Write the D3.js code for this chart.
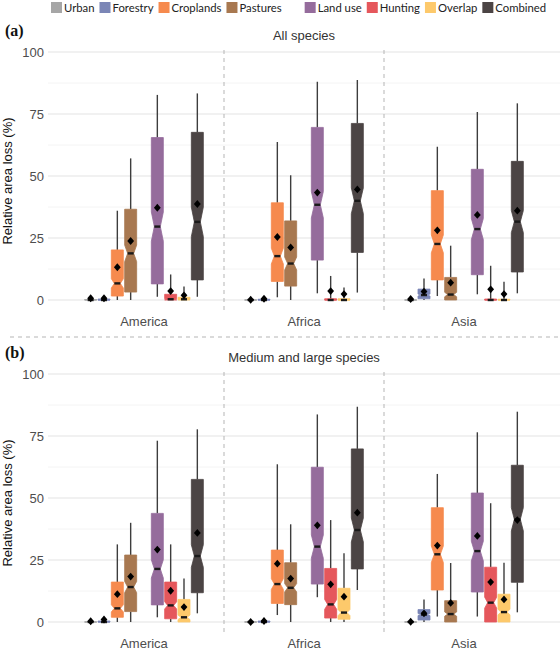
<!DOCTYPE html>
<html><head><meta charset="utf-8">
<script src="https://cdn.jsdelivr.net/npm/d3@7"></script>
<style>body{margin:0;background:#fff}svg{display:block}</style>
</head><body>
<svg id="c" width="560" height="650"></svg>
<script>
const regions = ["America","Africa","Asia"];
const series = ["Urban","Forestry","Croplands","Pastures","Land use","Hunting","Overlap","Combined"];
const seriesColors = ["#a6a6a6","#7b86b6","#f68a4e","#a87850","#956c9c","#e5575c","#fdc96b","#4b4444"];
const slots = ["Urban","Forestry","Croplands","Pastures"," ","Land use","Hunting","Overlap","Combined"];
const panelTags = ["(a)","(b)"];
const panelTitles = ["All species","Medium and large species"];
const yTicks = [0,25,50,75,100];
const yMinor = [12.5,37.5,62.5,87.5];
const nPerBox = 250;

// Panel (a): All species  — rows: America, Africa, Asia; columns follow `series`
const aLow  = [[0,0,0,0,1.3,0,0,1.3],[0,0,1.1,0,2.7,0,0,3],[0,0,1.6,0,2.3,0,0,2.7]];
const aQ1   = [[0,0,1.6,3.2,6.5,0,0,8.1],[0,0,7.5,5.6,16.1,0,0,19.2],[0,0.5,8.1,0,10.2,0,0,11.3]];
const aMed  = [[0,0,6.7,18.8,29.6,0.3,0.3,31.5],[0,0,17.7,14.7,38.4,0,0,40],[0,2,22.6,2.2,28.6,0,0,31.6]];
const aQ3   = [[0.2,0.4,20.2,36.6,65.5,2.3,1.1,67.6],[0,0.3,39.2,31.9,69.6,0.5,0.5,71.2],[0,4.4,44.1,9.1,52.7,0.4,0.3,55.9]];
const aHigh = [[0.5,0.6,36,57.1,82.7,10.3,5.4,83.3],[0,0.5,63.7,50.3,88,9.7,5,88.7],[0.3,8.7,61.8,21.9,75.8,13.8,7.4,79.3]];
const aMean = [[0.7,0.7,13.2,23.8,37.2,3.6,1.9,38.7],[0.1,0.5,25.4,21.2,43.3,3.6,2.4,44.6],[0.4,3.4,28.1,7,34.3,4.3,2.4,36]];

// Panel (b): Medium and large species
const bLow  = [[0,0,0,0,1.9,0,0,3.5],[0,0,2.8,0,10,0,0,12.9],[0,0,2.2,0,2.2,0,0,3.9]];
const bQ1   = [[0,0,1.9,4.2,6.9,1.3,0,11.8],[0,0,7.5,7,15.3,1.6,1.1,21.4],[0,0.8,12.9,0,12.1,0,0,16]];
const bMed  = [[0,0,5.5,14.1,21.4,6.7,1.9,26.6],[0,0,15.3,13.8,30.4,7.1,3.8,37.1],[0,3,27.3,3.2,28.6,7.8,4,41.4]];
const bQ3   = [[0,0.4,16.1,27,43.8,16.1,9.1,57.5],[0,0.4,29,23.9,62.4,21.6,13.6,69.8],[0,5,46.1,8.6,52,22.1,11.2,63.2]];
const bHigh = [[0,0.8,31.3,40,73.1,31.3,17.5,77.7],[0,0.6,63.6,39.4,83.7,41.1,27.7,86.8],[0,9.1,59.7,23.8,76.5,47.9,23.9,84.8]];
const bMean = [[0.3,1,11.2,18.3,29.2,12.6,6,35.9],[0,0.4,23.5,17.5,39,15.2,10.2,44.1],[0.1,3.5,30.8,7.7,34.7,16.1,9.1,41.1]];

const panelData = [
  {low:aLow,q1:aQ1,med:aMed,q3:aQ3,high:aHigh,mean:aMean},
  {low:bLow,q1:bQ1,med:bMed,q3:bQ3,high:bHigh,mean:bMean}
];

const svg = d3.select("#c");
const font = "'Liberation Sans', Arial, sans-serif";
const color = d3.scaleOrdinal(series, seriesColors);

const plotLeft = 48, plotRight = 560;
const x0 = d3.scaleBand(regions, [plotLeft + 16, plotRight - 16]).padding(0);
const x1 = d3.scaleBand(slots, [20, 140]).paddingInner(0.1).paddingOuter(0.05);

// Legend
const leg = svg.append("g").attr("font-family","Lato, 'Open Sans', sans-serif").attr("font-size",11.3);
let lx = 51;
slots.forEach(s => {
  const blank = s.trim() === "";
  if (!blank) {
    leg.append("rect").attr("x",lx).attr("y",2).attr("width",11).attr("height",11).attr("fill",color(s));
  }
  const t = leg.append("text").attr("x",lx+13).attr("y",11.8).attr("fill","#222").text(s);
  const w = blank ? 0 : t.node().getComputedTextLength();
  lx += 13 + w + 5;
});

const panelOffsets = [0, 322];
panelData.forEach((pd, pi) => {
  const off = panelOffsets[pi];
  const y = d3.scaleLinear([0,100],[300+off, 52+off]);
  const top = 50 + off, bottom = 311 + off;
  const g = svg.append("g");

  // grid
  g.selectAll(".minor").data(yMinor).join("line")
    .attr("x1",plotLeft).attr("x2",plotRight).attr("y1",d=>y(d)).attr("y2",d=>y(d))
    .attr("stroke","#f1f1f1").attr("stroke-width",0.8);
  g.selectAll(".major").data(yTicks).join("line")
    .attr("x1",plotLeft).attr("x2",plotRight).attr("y1",d=>y(d)).attr("y2",d=>y(d))
    .attr("stroke","#e3e3e3").attr("stroke-width",1.1);

  // y axis labels
  const ax = g.append("g").attr("transform",`translate(${plotLeft-4},0)`)
    .call(d3.axisLeft(y).tickValues(yTicks).tickSize(0).tickPadding(0));
  ax.select(".domain").remove();
  ax.selectAll("text").attr("font-family",font).attr("font-size",13).attr("fill","#4d4d4d");

  // x axis labels
  const xa = g.append("g").attr("transform",`translate(0,${bottom+6})`)
    .call(d3.axisBottom(x0).tickSize(0).tickPadding(0));
  xa.select(".domain").remove();
  xa.selectAll("text").attr("font-family",font).attr("font-size",13).attr("fill","#4d4d4d").attr("dy","0.72em");

  // vertical dashed separators between regions
  regions.slice(1).forEach(r => {
    g.append("line").attr("x1",x0(r)).attr("x2",x0(r)).attr("y1",top).attr("y2",bottom)
      .attr("stroke","#b5b5b5").attr("stroke-width",1).attr("stroke-dasharray","4,4");
  });

  // titles
  g.append("text").attr("x",(plotLeft+plotRight)/2).attr("y",39.5+off).attr("text-anchor","middle")
    .attr("font-family",font).attr("font-size",13).attr("fill","#333").text(panelTitles[pi]);
  g.append("text").attr("x",5).attr("y",36+off).attr("font-family","'Liberation Serif', 'Times New Roman', serif")
    .attr("font-weight","bold").attr("font-size",16).attr("fill","#111").text(panelTags[pi]);
  g.append("text").attr("transform",`translate(12,${y(50)+5}) rotate(-90)`).attr("text-anchor","middle")
    .attr("font-family",font).attr("font-size",13).attr("fill","#111").text("Relative area loss (%)");

  // boxes
  const bw = x1.bandwidth();
  regions.forEach((r, ri) => {
    series.forEach((s, si) => {
      const cx = x0(r) + x1(s) + bw/2;
      const lo = pd.low[ri][si], q1 = pd.q1[ri][si], md = pd.med[ri][si], q3 = pd.q3[ri][si], hi = pd.high[ri][si], mn = pd.mean[ri][si];
      const c = color(s);
      const wg = g.append("g");
      // whiskers
      wg.append("line").attr("x1",cx).attr("x2",cx).attr("y1",y(q3)).attr("y2",y(hi)).attr("stroke","#3d3d3d").attr("stroke-width",1.4);
      wg.append("line").attr("x1",cx).attr("x2",cx).attr("y1",y(q1)).attr("y2",y(lo)).attr("stroke","#3d3d3d").attr("stroke-width",1.4);
      // notched box
      const notch = 1.58*(q3-q1)/Math.sqrt(nPerBox);
      const nu = Math.min(q3, md + notch), nl = Math.max(q1, md - notch);
      const w = bw/2, nw = w*0.5;
      const pts = [
        [cx-w, y(q3)],[cx+w, y(q3)],[cx+w, y(nu)],[cx+nw, y(md)],[cx+w, y(nl)],
        [cx+w, y(q1)],[cx-w, y(q1)],[cx-w, y(nl)],[cx-nw, y(md)],[cx-w, y(nu)]
      ];
      wg.append("path").attr("d", d3.line()(pts)+"Z").attr("fill",c).attr("stroke",c).attr("stroke-width",1).attr("stroke-opacity",0.8);
      // median
      wg.append("line").attr("x1",cx-nw).attr("x2",cx+nw).attr("y1",y(md)).attr("y2",y(md)).attr("stroke","#1a1a1a").attr("stroke-width",2.4);
      // mean diamond
      const my = y(mn);
      wg.append("path").attr("d", d3.line()([[cx,my-3.9],[cx+3.4,my],[cx,my+3.9],[cx-3.4,my]])+"Z").attr("fill","#000");
    });
  });
});

// horizontal dashed separator between panels
svg.append("line").attr("x1",10).attr("x2",560).attr("y1",337).attr("y2",337)
  .attr("stroke","#b5b5b5").attr("stroke-width",1).attr("stroke-dasharray","4,4");
</script>
</body></html>
